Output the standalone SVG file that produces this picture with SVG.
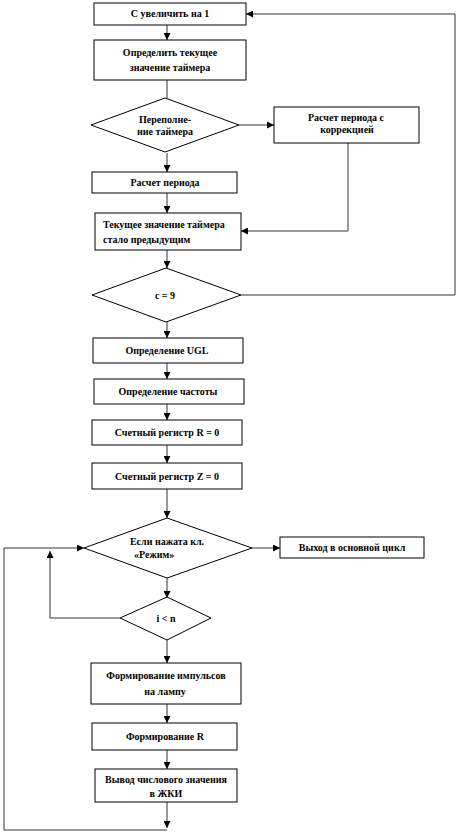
<svg xmlns="http://www.w3.org/2000/svg" width="459" height="837" viewBox="0 0 459 837">
<style>
.n{fill:#fff;stroke:#000;stroke-width:1}
.t{font-family:"Liberation Serif","Times New Roman",serif;font-weight:bold;font-size:10px;fill:#000;text-anchor:middle}
.s{text-anchor:start}
.c{fill:none;stroke:#333;stroke-width:1}
</style>
<defs>
<marker id="a" viewBox="0 0 10 10" refX="10" refY="5" markerWidth="7" markerHeight="7" markerUnits="userSpaceOnUse" orient="auto">
<path d="M0,0 L10,5 L0,10 z" fill="#000"/>
</marker>
</defs>
<rect width="459" height="837" fill="#fff"/>
<g id="connectors">
<path class="c" d="M167,25 V40" marker-end="url(#a)"/>
<path class="c" d="M167,80 V98"/>
<path class="c" d="M167,153 V172" marker-end="url(#a)"/>
<path class="c" d="M167,193 V213" marker-end="url(#a)"/>
<path class="c" d="M167,250 V268" marker-end="url(#a)"/>
<path class="c" d="M167,322 V338" marker-end="url(#a)"/>
<path class="c" d="M167,363 V379" marker-end="url(#a)"/>
<path class="c" d="M167,404 V420" marker-end="url(#a)"/>
<path class="c" d="M167,445 V463" marker-end="url(#a)"/>
<path class="c" d="M167,489 V518" marker-end="url(#a)"/>
<path class="c" d="M167,578 V598" marker-end="url(#a)"/>
<path class="c" d="M167,640 V663" marker-end="url(#a)"/>
<path class="c" d="M167,704 V723" marker-end="url(#a)"/>
<path class="c" d="M167,750 V769" marker-end="url(#a)"/>
<path class="c" d="M167,802 V828" marker-end="url(#a)"/>
<path class="c" d="M239,125 H274" marker-end="url(#a)"/>
<path class="c" d="M348,143 V231 H241" marker-end="url(#a)"/>
<path class="c" d="M241,295 H455 V14 H246" marker-end="url(#a)"/>
<path class="c" d="M252,548 H280" marker-end="url(#a)"/>
<path class="c" d="M120,618 H50 V551" marker-end="url(#a)"/>
<path class="c" d="M167,830 H4 V548 H84" marker-end="url(#a)"/>
</g>
<g id="n1"><rect class="n" x="94" y="3" width="152" height="22"/><text class="t" x="170" y="17">С увеличить на 1</text></g>
<g id="n2"><rect class="n" x="94" y="40" width="152" height="40"/><text class="t" x="170" y="56">Определить текущее</text><text class="t" x="170" y="71">значение таймера</text></g>
<g id="n3"><polygon class="n" points="165,98 239,125 165,152 91,125"/><text class="t" x="165" y="123">Переполне-</text><text class="t" x="165" y="135">ние таймера</text></g>
<g id="n4"><rect class="n" x="274" y="107" width="145" height="36"/><text class="t" x="346" y="121">Расчет периода с</text><text class="t" x="347" y="133">коррекцией</text></g>
<g id="n5"><rect class="n" x="92" y="172" width="145" height="21"/><text class="t" x="165" y="186">Расчет периода</text></g>
<g id="n6"><rect class="n" x="95" y="213" width="146" height="37"/><text class="t s" x="103" y="228">Текущее значение таймера</text><text class="t s" x="103" y="243">стало предыдущим</text></g>
<g id="n7"><polygon class="n" points="166,268 241,295 166,322 92,295"/><text class="t" x="165" y="299">c = 9</text></g>
<g id="n8"><rect class="n" x="93" y="338" width="150" height="25"/><text class="t" x="167" y="354">Определение UGL</text></g>
<g id="n9"><rect class="n" x="94" y="379" width="150" height="25"/><text class="t" x="168" y="395">Определение частоты</text></g>
<g id="n10"><rect class="n" x="92" y="420" width="150" height="25"/><text class="t" x="167" y="436">Счетный регистр R = 0</text></g>
<g id="n11"><rect class="n" x="92" y="463" width="150" height="26"/><text class="t" x="167" y="480">Счетный регистр Z = 0</text></g>
<g id="n12"><polygon class="n" points="167,518 252,548 167,578 84,548"/><text class="t" x="167" y="545">Если нажата кл.</text><text class="t s" x="134" y="558">«Режим»</text></g>
<g id="n13"><rect class="n" x="280" y="537" width="144" height="21"/><text class="t" x="352" y="551">Выход в основной цикл</text></g>
<g id="n14"><polygon class="n" points="167,597 211,618 167,640 120,618"/><text class="t" x="166" y="622">i &lt; n</text></g>
<g id="n15"><rect class="n" x="91" y="663" width="150" height="41"/><text class="t" x="166" y="679">Формирование импульсов</text><text class="t" x="165" y="695">на лампу</text></g>
<g id="n16"><rect class="n" x="92" y="723" width="145" height="27"/><text class="t" x="165" y="740">Формирование  R</text></g>
<g id="n17"><rect class="n" x="95" y="769" width="142" height="33"/><text class="t" x="166" y="783">Вывод числового значения</text><text class="t" x="166" y="797">в ЖКИ</text></g>
</svg>
